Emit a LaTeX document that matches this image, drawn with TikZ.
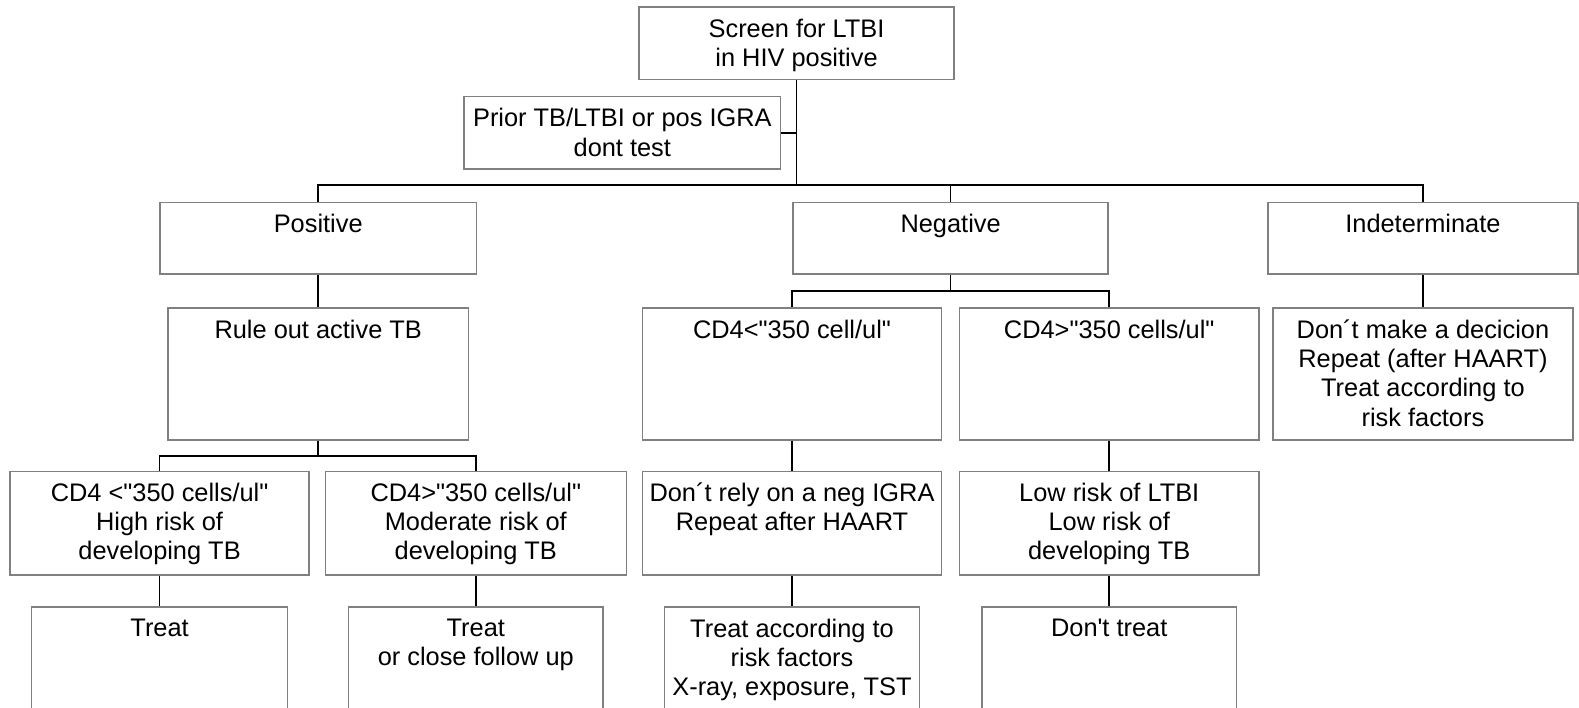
\documentclass[tikz,border=0pt]{standalone}
\usepackage{fontspec}
\setmainfont{Liberation Sans}
\usetikzlibrary{positioning}
\definecolor{boxgray}{gray}{0.5}
\tikzset{box/.style 2 args={draw=boxgray,line width=0.75pt,minimum width=#1*0.5pt,minimum height=#2*0.5pt,inner sep=0pt},
         txt/.style={anchor=north,yshift=-6pt,inner sep=0pt,align=center,font=\fontsize{12.6}{14.5}\selectfont},
         link/.style={line width=0.8pt},
        }

\begin{document}
\begin{tikzpicture}[x=0.5pt,y=-0.5pt]
        \path[use as bounding box,clip](0,0)rectangle(1568,703);

        \node[box={313}{72},label={[txt]north:Screen for LTBI\\in HIV positive}](screen)at(791,43){};
        \node[box={314}{72},label={[txt]north:Prior TB/LTBI or pos IGRA\\dont test}](prior)at(618,132){};

        \node[box={314}{71},label={[txt]north:Positive}](pos)at(316,236.5){};
        \node[box={313}{71},label={[txt]north:Negative}](neg)at(944,236.5){};
        \node[box={308}{71},label={[txt]north:Indeterminate}](ind)at(1413,236.5){};

        \node[box={298}{131},label={[txt]north:Rule out active TB}](rule)at(316,371.5){};
        \node[box={297}{131},label={[txt]north:CD4<\textquotedbl 350 cell/ul\textquotedbl}](cdlow)at(786.5,371.5){};
        \node[box={297}{131},label={[txt]north:CD4>\textquotedbl 350 cells/ul\textquotedbl}](cdhigh)at(1101.5,371.5){};
        \node[box={298}{131},label={[txt]north:Don´t make a decicion\\Repeat (after HAART)\\Treat according to\\risk factors}](nodec)at(1413,371.5){};

        \node[box={297}{103},label={[txt]north:CD4 <\textquotedbl 350 cells/ul\textquotedbl\\High risk of\\developing TB}](hirisk)at(158.5,519.5){};
        \node[box={299}{103},label={[txt]north:CD4>\textquotedbl 350 cells/ul\textquotedbl\\Moderate risk of\\developing TB}](modrisk)at(472.5,519.5){};
        \node[box={297}{103},label={[txt]north:Don´t rely on a neg IGRA\\Repeat after HAART}](norely)at(786.5,519.5){};
        \node[box={297}{103},label={[txt]north:Low risk of LTBI\\Low risk of\\developing TB}](lowrisk)at(1101.5,519.5){};

        \node[box={254}{120},label={[txt]north:Treat}](treat)at(158.5,663){};
        \node[box={253}{120},label={[txt]north:Treat\\or close follow up}](treatclose)at(472.5,663){};
        \node[box={253}{120},label={[txt]north:Treat according to\\risk factors\\X-ray, exposure, TST}](treatrisk)at(786.5,663){};
        \node[box={253}{120},label={[txt]north:Don\textquotesingle t treat}](notreat)at(1101.5,663){};

        % branch points
        \coordinate(s1)at(791,184);
        \coordinate(s2)at(316,453);
        \coordinate(s3)at(944,289);

        \draw[link](screen.south)--(s1);
        \draw[link](prior.east)--(prior.east -| s1);
        \draw[link](pos.north)|-(s1)-|(ind.north);
        \draw[link](neg.north)--(neg.north |- s1);

        \draw[link](pos.south)--(rule.north);
        \draw[link](rule.south)--(s2);
        \draw[link](hirisk.north)|-(s2)-|(modrisk.north);
        \draw[link](hirisk.south)--(treat.north);
        \draw[link](modrisk.south)--(treatclose.north);

        \draw[link](neg.south)--(s3);
        \draw[link](cdlow.north)|-(s3)-|(cdhigh.north);
        \draw[link](cdlow.south)--(norely.north);
        \draw[link](norely.south)--(treatrisk.north);
        \draw[link](cdhigh.south)--(lowrisk.north);
        \draw[link](lowrisk.south)--(notreat.north);

        \draw[link](ind.south)--(nodec.north);
    \end{tikzpicture}
\end{document}
